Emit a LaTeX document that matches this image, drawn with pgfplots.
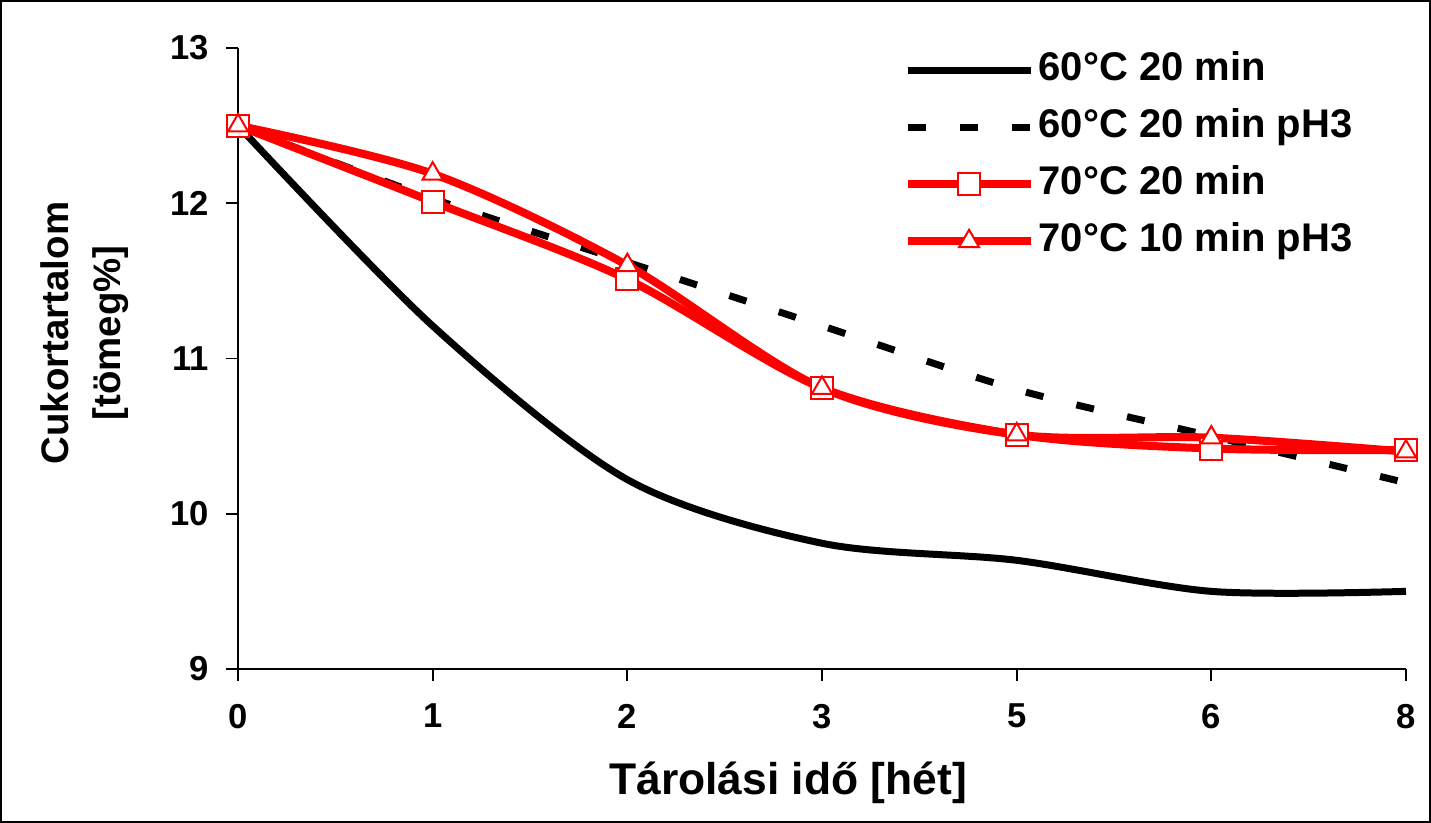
\documentclass[border=0pt]{standalone}
\usepackage{fontspec}
\setmainfont{Liberation Sans}
\usepackage{pgfplots}
\pgfplotsset{compat=1.18}
\definecolor{myred}{RGB}{255,0,0}
\begin{document}
\begin{tikzpicture}
\useasboundingbox (0,0) rectangle (715.5pt,411.5pt);
\draw[line width=1pt] (0.5pt,0.5pt) rectangle (715pt,411pt);
\begin{axis}[
  at={(119pt,77pt)}, anchor=south west,
  scale only axis, width=584pt, height=310.5pt,
  xmin=0, xmax=6, ymin=9, ymax=13,
  axis x line=bottom, axis y line=left,
  axis line style={line width=0.9pt,-},
  xtick={0,1,2,3,4,5,6}, xticklabels={0,1,2,3,5,6,8},
  ytick={9,10,11,12,13},
  tick align=outside, major tick length=6pt,
  tick style={line width=0.9pt, black},
  /pgf/number format/assume math mode=true,
  ticklabel style={font=\fontsize{17.3}{20}\selectfont\bfseries},
  yticklabel style={xshift=-5pt},
  xticklabel style={yshift=-8pt},
  xlabel={Tárolási idő [hét]},
  xlabel style={font=\fontsize{22.2}{26}\selectfont\bfseries, at={(rel axis cs:0.471,-0.184)}, anchor=center},
  ylabel={Cukortartalom\\[4pt][tömeg\%]},
  ylabel style={font=\fontsize{19.2}{22}\selectfont\bfseries, align=center, at={(rel axis cs:-0.131,0.541)}, anchor=center},
  legend cell align=left,
  legend style={draw=none, fill=none, inner sep=0pt, at={(rel axis cs:0.5695,1.0)}, anchor=north west,
    font=\fontsize{20}{22}\selectfont\bfseries, row sep=6.5pt,
    nodes={inner sep=2pt, text height=14pt, text depth=4pt}},
  legend image code/.code={\draw[mark repeat=2,mark phase=2,#1] plot coordinates {(0pt,0pt)(30.75pt,0pt)(61.5pt,0pt)};},
]
\addplot[black, line width=3.5pt, smooth] coordinates {(0,12.5)(1,11.21)(2,10.22)(3,9.81)(4,9.70)(5,9.50)(6,9.50)};
\addlegendentry{60°C 20 min}
\addplot[black, line width=3.5pt, smooth, dash pattern=on 9pt off 17pt] coordinates {(0,12.5)(1,12.03)(2,11.62)(3,11.21)(4,10.80)(5,10.50)(6,10.20)};
\addlegendentry{60°C 20 min pH3}
\addplot[myred, line width=4pt, smooth, mark=square*, mark size=5.5pt, mark options={solid, fill=white, line width=1pt}] coordinates {(0,12.5)(1,12.01)(2,11.51)(3,10.81)(4,10.51)(5,10.42)(6,10.41)};
\addlegendentry{70°C 20 min}
\addplot[myred, line width=4pt, smooth, mark=triangle*, mark size=5.8pt, mark options={solid, fill=white, line width=1pt}] coordinates {(0,12.5)(1,12.19)(2,11.60)(3,10.81)(4,10.51)(5,10.49)(6,10.40)};
\addlegendentry{70°C 10 min pH3}
\end{axis}
\end{tikzpicture}
\end{document}
